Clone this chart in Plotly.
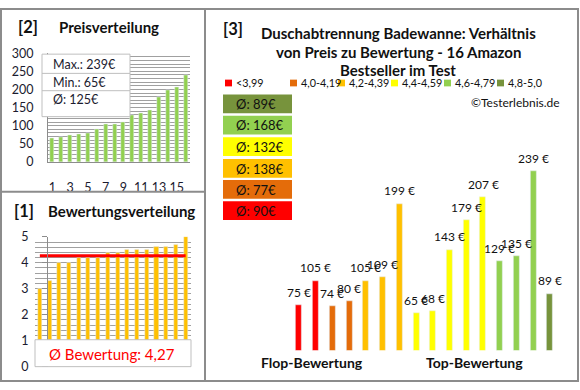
import plotly.graph_objects as go

# ---------------- data ----------------
positions = list(range(1, 17))
prices_sorted = [65, 68, 74, 75, 80, 89, 105, 105, 109, 129, 135, 143, 179, 199, 207, 239]
ratings_sorted = [3.0, 3.3, 4.0, 4.0, 4.2, 4.2, 4.2, 4.4, 4.4, 4.5, 4.5, 4.5, 4.6, 4.6, 4.7, 5.0]
avg_rating_label = "4,27"
avg_rating = 4.27

# right chart: price per product ordered from flop to top rating
prices_by_rating = [75, 105, 74, 80, 105, 109, 199, 65, 68, 143, 179, 207, 129, 135, 239, 89]
rating_group = [0, 0, 1, 1, 2, 2, 2, 3, 3, 3, 3, 3, 4, 4, 4, 5]
group_labels = ["<3,99", "4,0-4,19", "4,2-4,39", "4,4-4,59", "4,6-4,79", "4,8-5,0"]
group_colors = ["#FF0000", "#E46C0A", "#FFC000", "#FFFF00", "#92D050", "#77933C"]

W, H = 580, 390
FONT = "Lato"
DARK = "#1b1b2f"


def fx(p):
    return p / W


def fy(p):
    return 1 - p / H


def note(x, y, text, size=12, color="#111", xanchor="center", **kw):
    return dict(x=fx(x), y=fy(y), xref="paper", yref="paper", text=text, showarrow=False,
                xanchor=xanchor, yanchor="middle", font=dict(size=size, color=color), **kw)


fig = go.Figure()

# ---------- [2] Preisverteilung ----------
fig.add_trace(go.Bar(x=positions, y=prices_sorted, marker_color="#92D050",
                     width=0.45, xaxis="x", yaxis="y", showlegend=False))

# ---------- [1] Bewertungsverteilung ----------
fig.add_trace(go.Bar(x=positions, y=ratings_sorted, marker_color="#FFC000",
                     width=0.42, xaxis="x2", yaxis="y2", showlegend=False))
fig.add_trace(go.Scatter(x=[positions[0], positions[-1]], y=[avg_rating, avg_rating],
                         mode="lines", line=dict(color="#FF0000", width=3),
                         xaxis="x2", yaxis="y2", showlegend=False))

# ---------- [3] price vs rating ----------
fig.add_trace(go.Bar(x=positions, y=prices_by_rating,
                     marker_color=[group_colors[g] for g in rating_group],
                     width=0.36, xaxis="x3", yaxis="y3", showlegend=False))

annotations = []
for xi, v in zip(positions, prices_by_rating):
    annotations.append(dict(x=xi, y=v, xref="x3", yref="y3", text=f"{v} €",
                            showarrow=False, yshift=13, xanchor="center", yanchor="middle",
                            font=dict(family=FONT, size=12, color="#111")))

grid = "#a0a0a0"
axis_col = "#8c8c8c"
fig.update_layout(
    width=W, height=H, margin=dict(l=0, r=0, t=0, b=0),
    paper_bgcolor="white", plot_bgcolor="white",
    font=dict(family=FONT, color=DARK),
    bargap=0,
    xaxis=dict(domain=[fx(48), fx(190)], range=[0.5, 16.5], tickvals=[1, 3, 5, 7, 9, 11, 13, 15],
               showgrid=False, showline=True, linecolor=axis_col, ticks="",
               ticklabelstandoff=14, tickfont=dict(size=12.5, color=DARK), zeroline=False),
    yaxis=dict(domain=[fy(160), fy(47)], range=[0, 300], dtick=50, showgrid=True, gridcolor=grid,
               minor=dict(dtick=10, showgrid=True, gridcolor=grid), showline=True, linecolor=axis_col,
               ticks="", ticklabelstandoff=11, tickfont=dict(size=12.5, color=DARK), zeroline=False),
    xaxis2=dict(domain=[fx(35), fx(190.5)], range=[0.5, 16.5], showticklabels=False, showgrid=False,
                showline=False, zeroline=False),
    yaxis2=dict(domain=[fy(373), fy(238)], range=[0, 5], dtick=1, showgrid=True, gridcolor=grid,
                minor=dict(dtick=0.2, showgrid=True, gridcolor=grid), showline=True, linecolor=axis_col,
                ticks="outside", ticklen=5, tickcolor=axis_col, ticklabelstandoff=11,
                tickfont=dict(size=12.5, color=DARK), zeroline=False),
    xaxis3=dict(domain=[fx(290.6), fx(558.4)], range=[0.5, 16.5], visible=False),
    yaxis3=dict(domain=[fy(356), fy(151.9)], range=[20, 260], visible=False),
)

shapes = []
# outer frame and dividers
shapes.append(dict(type="rect", xref="paper", yref="paper", x0=fx(1), x1=fx(578), y0=fy(388), y1=fy(1),
                   line=dict(color=axis_col, width=2)))
shapes.append(dict(type="line", xref="paper", yref="paper", x0=fx(205), x1=fx(205), y0=fy(388), y1=fy(1),
                   line=dict(color=axis_col, width=2)))
shapes.append(dict(type="line", xref="paper", yref="paper", x0=fx(1), x1=fx(205), y0=fy(191), y1=fy(191),
                   line=dict(color=axis_col, width=2)))

# stats box in price chart
box_line = dict(color="#bfbfbf", width=1)
shapes.append(dict(type="rect", xref="paper", yref="paper", x0=fx(42), x1=fx(130), y0=fy(113), y1=fy(48),
                   fillcolor="white", line=box_line, layer="above"))
for yy in (68, 86):
    shapes.append(dict(type="line", xref="paper", yref="paper", x0=fx(42), x1=fx(130), y0=fy(yy), y1=fy(yy),
                       line=box_line, layer="above"))
stats = [f"Max.: {max(prices_sorted)}€", f"Min.: {min(prices_sorted)}€",
         f"Ø: {round(sum(prices_sorted) / len(prices_sorted))}€"]
for txt, yy in zip(stats, (58.5, 77.5, 95.5)):
    annotations.append(note(51, yy, txt, 12.5, DARK, xanchor="left"))

# rating box
shapes.append(dict(type="rect", xref="paper", yref="paper", x0=fx(35), x1=fx(191), y0=fy(373), y1=fy(345),
                   fillcolor="white", line=box_line, layer="above"))
annotations.append(note(112, 359.5, f"Ø Bewertung: {avg_rating_label}", 15, "#FF0000"))

# panel titles
for txt, x, y in [("[2]", 27.5, 20), ("[1]", 24, 211), ("[3]", 233, 22)]:
    annotations.append(note(x, y, f"<b>{txt}</b>", 16.5))
annotations.append(note(109, 20, "<b>Preisverteilung</b>", 15))
annotations.append(note(121.5, 211, "<b>Bewertungsverteilung</b>", 15))
title_lines = ["Duschabtrennung Badewanne: Verhältnis", "von Preis zu Bewertung - 16 Amazon",
               "Bestseller im Test"]
for txt, yy in zip(title_lines, (26, 45.5, 64.5)):
    annotations.append(note(398, yy, f"<b>{txt}</b>", 15))

# color legend
leg_x = [225, 290, 338, 391, 444, 497]
for lx, lab, col in zip(leg_x, group_labels, group_colors):
    shapes.append(dict(type="rect", xref="paper", yref="paper", x0=fx(lx), x1=fx(lx + 7),
                       y0=fy(81.5), y1=fy(74.5), fillcolor=col, line=dict(width=0)))
    annotations.append(note(lx + 9, 78, lab.replace("<", "&lt;"), 10.8, xanchor="left"))
annotations.append(note(562, 98, "©Testerlebnis.de", 12, xanchor="right"))

# group average boxes (top: best group)
box_tops = [90, 112, 134.5, 157, 179, 201]
for gi, top in zip(range(5, -1, -1), box_tops):
    vals = [p for p, g in zip(prices_by_rating, rating_group) if g == gi]
    avg = round(sum(vals) / len(vals))
    shapes.append(dict(type="rect", xref="paper", yref="paper", x0=fx(223), x1=fx(292),
                       y0=fy(top + 19.5), y1=fy(top), fillcolor=group_colors[gi], line=dict(width=0)))
    annotations.append(note(234, top + 10, f"Ø: {avg}€", 13, xanchor="left"))

annotations.append(note(312, 369, "<b>Flop-Bewertung</b>", 14))
annotations.append(note(474, 369, "<b>Top-Bewertung</b>", 14))

fig.update_layout(shapes=shapes, annotations=annotations)
fig.write_html("out.html", config={"displayModeBar": False},
               post_script="document.body.style.margin='0px';")
